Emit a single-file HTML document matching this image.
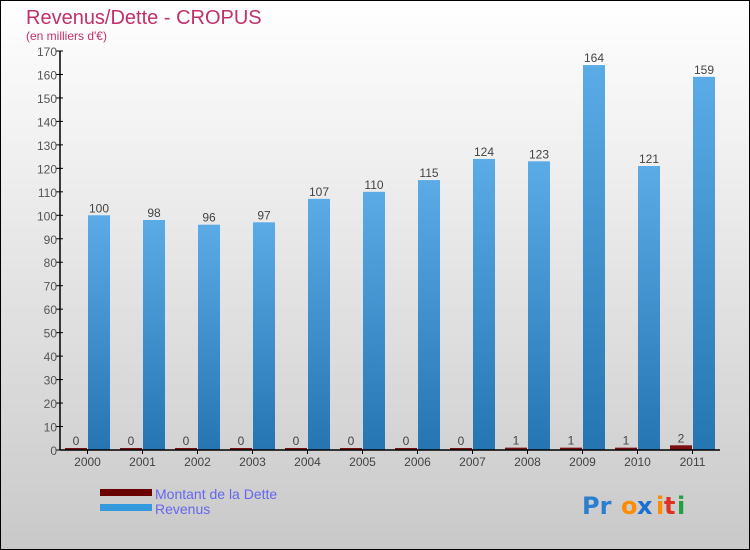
<!DOCTYPE html>
<html><head><meta charset="utf-8"><style>
body{margin:0}
svg{display:block;font-family:"Liberation Sans",sans-serif}
</style></head><body>
<svg width="750" height="550">
<defs>
<linearGradient id="bg" x1="0" y1="0" x2="0" y2="1"><stop offset="0" stop-color="#ffffff"/><stop offset="1" stop-color="#c9c9c9"/></linearGradient>
<linearGradient id="blue" x1="0" y1="0" x2="0" y2="1"><stop offset="0" stop-color="#5aabe6"/><stop offset="1" stop-color="#2575b2"/></linearGradient>
</defs>
<rect x="0.5" y="0.5" width="749" height="549" fill="url(#bg)" stroke="#000"/>
<text x="26" y="24" font-size="20" fill="#c0306a">Revenus/Dette - CROPUS</text>
<text x="26" y="40" font-size="12" fill="#c0306a">(en milliers d'€)</text>
<g id="plot"></g>
<rect x="100" y="489" width="52" height="7" fill="#6b0000"/>
<rect x="100" y="504" width="52" height="7" fill="#3399dd"/>
<text x="155" y="499" font-size="14" fill="#6666ee">Montant de la Dette</text>
<text x="155" y="514" font-size="14" fill="#6666ee">Revenus</text>
<g font-size="24" font-family="'DejaVu Sans',sans-serif" font-weight="bold">
<text x="582" y="514" fill="#2a7fd0">Pr</text><text x="621" y="514" fill="#ff8c00">o</text><text x="637" y="514" fill="#1a6fd0">x</text><text x="656" y="514" fill="#ff8c00">i</text><text x="664" y="514" fill="#e03020">t</text><text x="677" y="514" fill="#20a040">i</text>
</g>
<script>
const years=["2000","2001","2002","2003","2004","2005","2006","2007","2008","2009","2010","2011"];
const dette=[0,0,0,0,0,0,0,0,1,1,1,2];
const revenus=[100,98,96,97,107,110,115,124,123,164,121,159];
const yTicks=[0,10,20,30,40,50,60,70,80,90,100,110,120,130,140,150,160,170];
const NS="http://www.w3.org/2000/svg";
const g=document.getElementById('plot');
const x0=60,band=55,yBase=450,yMax=170,yTop=51;
const y=v=>yBase-(v/yMax)*(yBase-yTop);
const bx=i=>x0+band*i;
function mk(t,a,txt){const e=document.createElementNS(NS,t);for(const k in a)e.setAttribute(k,a[k]);if(txt!==undefined)e.textContent=txt;g.appendChild(e);return e;}
yTicks.forEach(v=>{
 const l=mk('line',{x1:x0-4,x2:x0+3,y1:y(v),y2:y(v),stroke:'#000'});
 
 
 const t=mk('text',{x:x0-3,y:y(v)+5,'font-size':12,fill:'#555','text-anchor':'end'},v);
 
 
});
years.forEach((yr,i)=>{
 const s=bx(i);
 const hd=Math.max(y(0)-y(dette[i]),2);
 const d=mk('rect',{x:s+5,y:yBase-hd,width:22,height:hd,fill:'#7a1010'});
 
 
 const r=mk('rect',{x:s+28,y:y(revenus[i]),width:22,height:y(0)-y(revenus[i]),fill:'url(#blue)'});
 
 
 const td=mk('text',{x:s+16,y:yBase-hd-3,'font-size':12,fill:'#444','text-anchor':'middle'},dette[i]);
 
 
 const tr=mk('text',{x:s+39,y:y(revenus[i])-3,'font-size':12,fill:'#444','text-anchor':'middle'},revenus[i]);
 
 
 const tk=mk('line',{x1:s+27.5,x2:s+27.5,y1:yBase,y2:yBase+4,stroke:'#000'});
 
 
 const xl=mk('text',{x:s+27.5,y:yBase+16,'font-size':12,fill:'#444','text-anchor':'middle'},yr);
 
 
});
const ya=mk('line',{x1:x0,x2:x0,y1:yTop,y2:yBase,stroke:'#000','stroke-width':1.5});


const xa=mk('line',{x1:x0,x2:x0+band*years.length,y1:yBase,y2:yBase,stroke:'#000','stroke-width':1.5});


</script>
</svg>
</body></html>
